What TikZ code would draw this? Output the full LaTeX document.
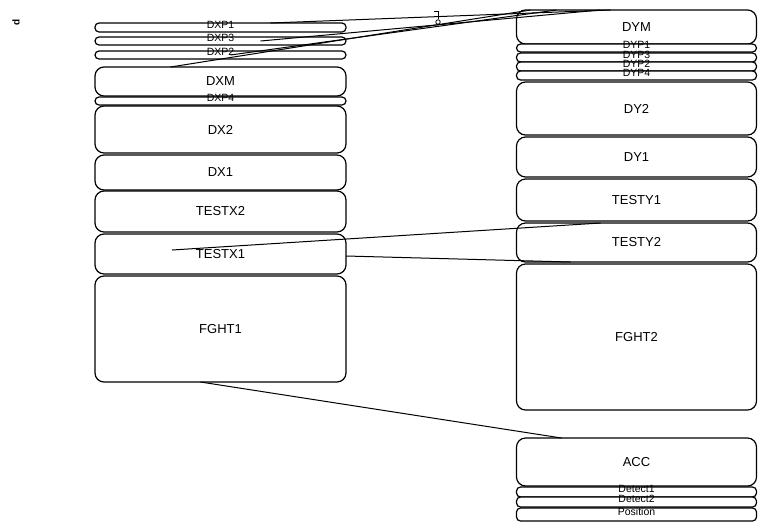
\documentclass[tikz,border=0pt]{standalone}
\usepackage{fontspec}
\setmainfont{Liberation Sans}
\usepackage{tikz}
\usetikzlibrary{shapes,arrows,positioning,calc}

\begin{document}
\begin{tikzpicture}[x=1pt, y=-1pt, node distance=2pt]
  \tikzstyle{block} = [rectangle, draw=black, fill=white, rounded corners=9pt, inner sep=0pt, outer sep=0pt, line width=1.2pt, font=\fontsize{13}{15}\selectfont]
  \tikzstyle{slim} = [rectangle, draw=black, fill=white, rounded corners=4pt, inner sep=0pt, outer sep=0pt, text height=3pt, text depth=2pt, line width=1.2pt, font=\fontsize{10.5}{10}\selectfont]
  \tikzstyle{line} = [draw=black, line width=1pt]
  \useasboundingbox (0,0) rectangle (767,523);

  \node [rotate=90, font=\fontsize{10}{10}\selectfont\bfseries] (mark) at (16,22) {d};

  % left column
  \node [slim, minimum width=251pt, minimum height=9pt] (dxp1) at (220.5,27.5) {DXP1};
  \node [slim, minimum width=251pt, minimum height=8pt, below=5pt of dxp1] (dxp3) {DXP3};
  \node [slim, minimum width=251pt, minimum height=8pt, below=6pt of dxp3] (dxp2) {DXP2};
  \node [block, minimum width=251pt, minimum height=29pt, below=8pt of dxp2] (dxm) {DXM};
  \node [slim, minimum width=251pt, minimum height=8pt, below=1pt of dxm] (dxp4) {DXP4};
  \node [block, minimum width=251pt, minimum height=47pt, below=1pt of dxp4] (dx2) {DX2};
  \node [block, minimum width=251pt, minimum height=35pt, below=2pt of dx2] (dx1) {DX1};
  \node [block, minimum width=251pt, minimum height=41pt, below=1pt of dx1] (testx2) {TESTX2};
  \node [block, minimum width=251pt, minimum height=40pt, below=2pt of testx2] (testx1) {TESTX1};
  \node [block, minimum width=251pt, minimum height=106pt, below=2pt of testx1] (fght1) {FGHT1};

  % right column
  \node [block, minimum width=240pt, minimum height=34pt] (dym) at (636.5,27) {DYM};
  \node [slim, minimum width=240pt, minimum height=8pt, below=0pt of dym] (dyp1) {DYP1};
  \node [slim, minimum width=240pt, minimum height=9pt, below=1pt of dyp1] (dyp3) {DYP3};
  \node [slim, minimum width=240pt, minimum height=9pt, below=0pt of dyp3] (dyp2) {DYP2};
  \node [slim, minimum width=240pt, minimum height=9pt, below=0pt of dyp2] (dyp4) {DYP4};
  \node [block, minimum width=240pt, minimum height=53pt, below=2pt of dyp4] (dy2) {DY2};
  \node [block, minimum width=240pt, minimum height=40pt, below=2pt of dy2] (dy1) {DY1};
  \node [block, minimum width=240pt, minimum height=42pt, below=2pt of dy1] (testy1) {TESTY1};
  \node [block, minimum width=240pt, minimum height=39pt, below=2pt of testy1] (testy2) {TESTY2};
  \node [block, minimum width=240pt, minimum height=146pt, below=2pt of testy2] (fght2) {FGHT2};
  \node [block, minimum width=240pt, minimum height=48pt, below=28pt of fght2] (acc) {ACC};
  \node [slim, minimum width=240pt, minimum height=10pt, below=1pt of acc] (detect1) {Detect1};
  \node [slim, minimum width=240pt, minimum height=10pt, below=0pt of detect1] (detect2) {Detect2};
  \node [slim, minimum width=240pt, minimum height=13pt, below=1pt of detect2] (position) {Position};

  % junction mark on the top wires
  \node [circle, draw=black, line width=0.8pt, inner sep=1.6pt] (via) at (438,22) {};
  \draw [line] (via.north) -- ++(0,-8) -- ++(-4,0);

  % wires
  \path [line] ([xshift=50pt]dxp1.north) -- ([xshift=-26pt]dym.north);
  \path [line] ([xshift=40pt]dxp3.center) -- ([xshift=-36pt]dym.north);
  \path [line] ([xshift=10pt]dxp2.center) -- ([xshift=-80pt]dym.north);
  \path [line] ([xshift=-50pt]dxm.north) -- ([xshift=-106pt]dym.north);

  \coordinate (tx1tail) at (172,250);
  \path [line] (tx1tail) -- ([xshift=-36pt]testy2.north);
  \path [line] ([yshift=-2pt]testx1.east) -- ([xshift=-66pt]testy2.south);
  \path [line] ([xshift=-20pt]fght1.south) -- ([xshift=-75pt]acc.north);
\end{tikzpicture}
\end{document}
